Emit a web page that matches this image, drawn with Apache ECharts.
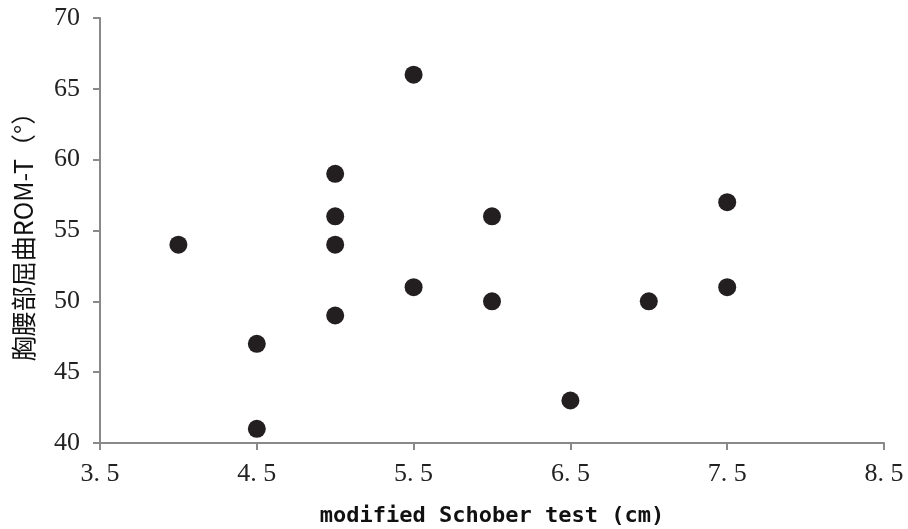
<!DOCTYPE html>
<html>
<head>
<meta charset="utf-8">
<script src="https://cdn.jsdelivr.net/npm/echarts@6/dist/echarts.min.js"></script>
<style>
  html, body { margin: 0; padding: 0; background: #fff; }
  #main { width: 908px; height: 529px; }
</style>
</head>
<body>
<div id="main"></div>
<script>
// data
var schober = [4, 4.5, 4.5, 5, 5, 5, 5, 5.5, 5.5, 6, 6, 6.5, 7, 7.5, 7.5];
var romT    = [54, 47, 41, 59, 56, 54, 49, 66, 51, 56, 50, 43, 50, 57, 51];

var points = [];
for (var i = 0; i < schober.length; i++) {
  points.push([schober[i], romT[i]]);
}

var chart = echarts.init(document.getElementById('main'));
var axisGray = '#898989';
var tickFont = { fontFamily: 'Liberation Serif', fontSize: 26, color: '#222' };

var option = {
  animation: false,
  grid: { left: 100, right: 24, top: 18, bottom: 86, containLabel: false, outerBoundsMode: 'none' },
  xAxis: {
    type: 'value',
    min: 3.5, max: 8.5, interval: 1,
    name: 'modified Schober test (cm)',
    nameLocation: 'middle',
    nameGap: 62,
    nameTextStyle: { fontFamily: 'DejaVu Sans Mono', fontWeight: 'bold', fontSize: 22, color: '#111' },
    axisLine: { lineStyle: { color: axisGray, width: 2 } },
    axisTick: { show: true, length: 7, lineStyle: { color: axisGray, width: 2 } },
    axisLabel: Object.assign({ margin: 18, formatter: function (v) { return v.toFixed(1).replace('.', '. '); } }, tickFont),
    splitLine: { show: false }
  },
  yAxis: {
    type: 'value',
    min: 40, max: 70, interval: 5,
    name: '胸腰部屈曲ROM-T（°）',
    nameLocation: 'middle',
    nameGap: 64,
    nameTextStyle: { fontFamily: 'Noto Sans CJK SC', fontSize: 25, color: '#111' },
    axisLine: { show: true, lineStyle: { color: axisGray, width: 2 } },
    axisTick: { show: true, length: 7, lineStyle: { color: axisGray, width: 2 } },
    axisLabel: Object.assign({ margin: 20 }, tickFont),
    splitLine: { show: false }
  },
  series: [{
    type: 'scatter',
    symbol: 'circle',
    symbolSize: 18,
    itemStyle: { color: '#231f20', opacity: 1 },
    data: points
  }]
};

chart.setOption(option);
</script>
</body>
</html>
